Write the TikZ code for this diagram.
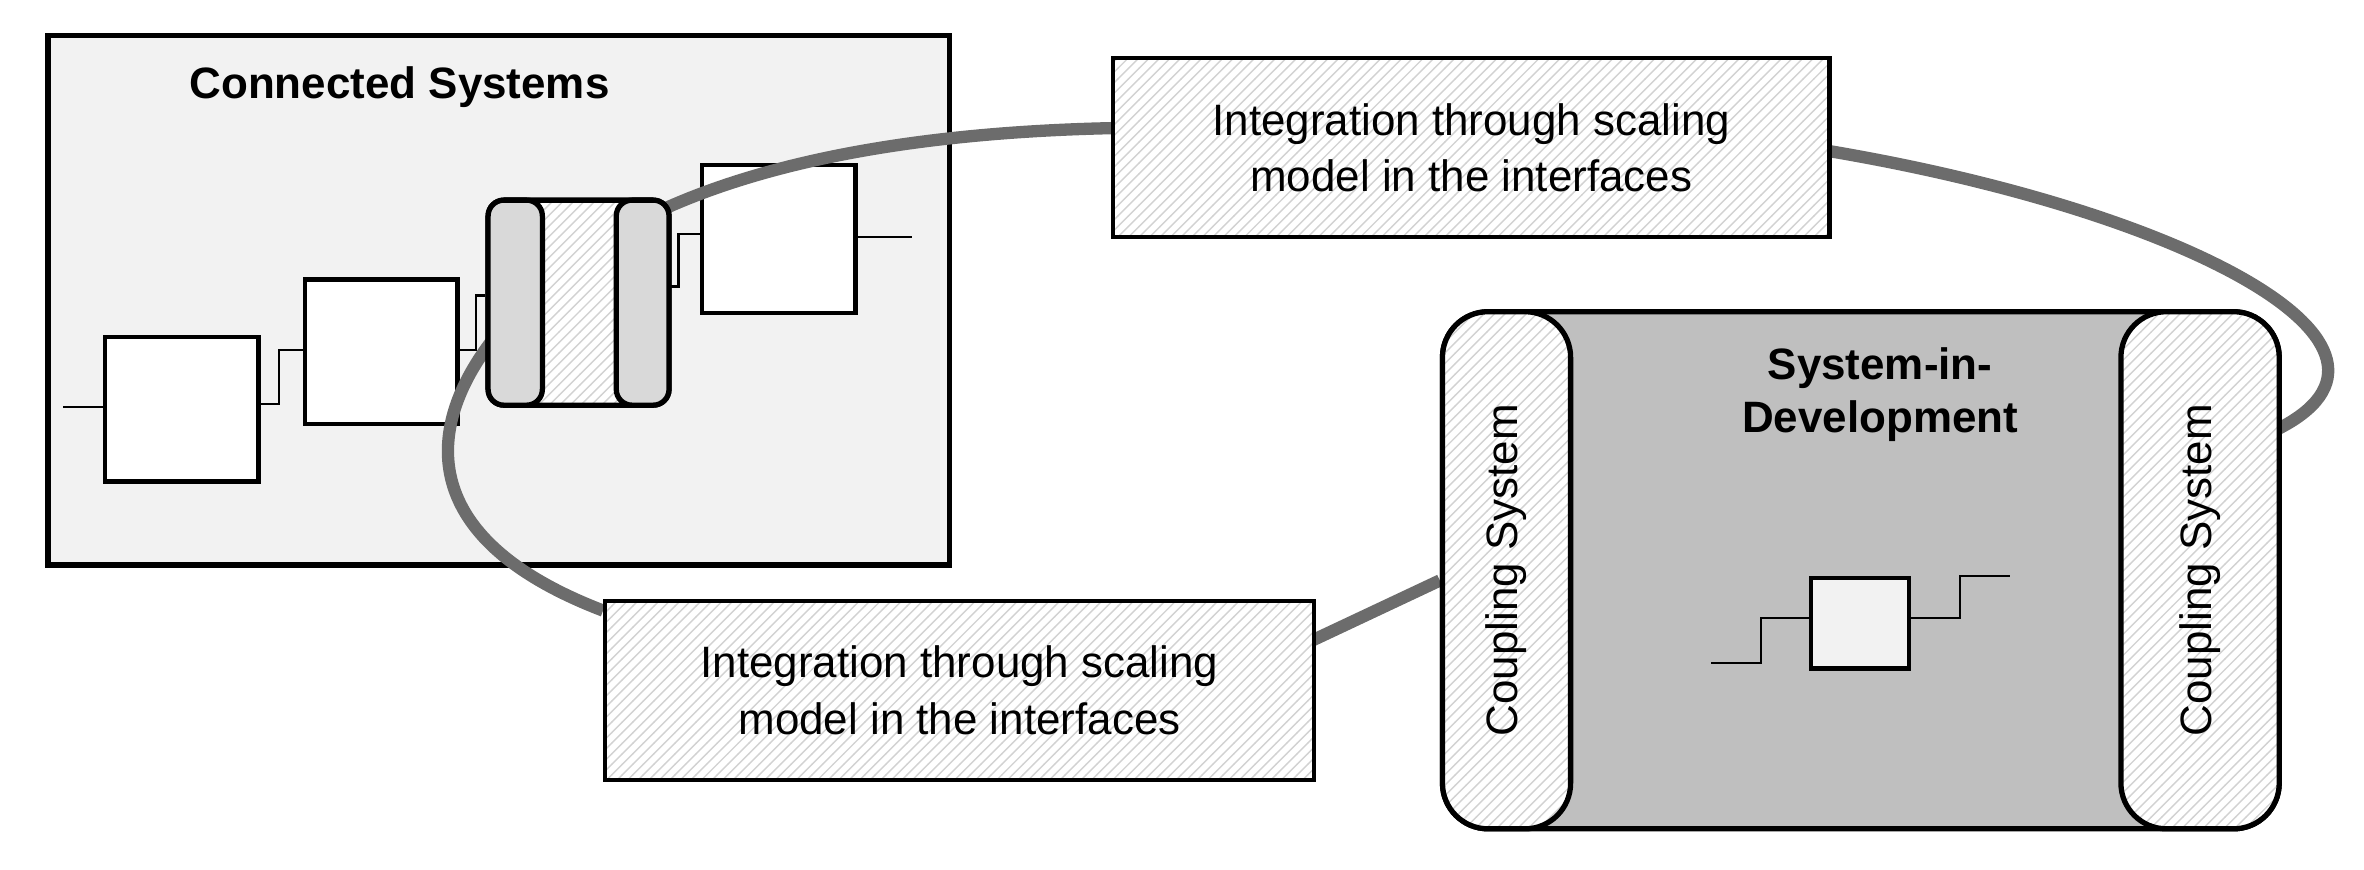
\documentclass[tikz,border=0pt]{standalone}
\usepackage{fontspec}
\setmainfont{Liberation Sans}
\usetikzlibrary{patterns}
\newcommand\PX{0.01508cm}
\begin{document}
\begin{tikzpicture}[x={(0.01508cm,0)},y={(0,-0.01508cm)},
  box/.style 2 args={minimum width=#1*\PX,minimum height=#2*\PX,inner sep=0,anchor=north west},
  blk/.style={draw,line width=1.2pt,fill=white},
  hatch/.style={preaction={fill=white},pattern=north east lines,pattern color=gray!35},
  lbl/.style={draw,line width=1.2pt,hatch,align=center,font=\fontsize{12.5}{16}\selectfont},
  wire/.style={line width=0.6pt},
  loop/.style={draw=gray!85!black,line width=3.5pt}]
\useasboundingbox (0,0) rectangle (1568,577);
% connected systems
\node[draw,line width=1.5pt,fill=gray!10,box={598}{351}] (cs) at (30,22) {};
\node[font=\bfseries\fontsize{12.5}{15}\selectfont] (cst) at (265,58) {Connected Systems};
\node[blk,box={102}{96}] (b1) at (68,222) {};
\node[blk,box={101}{96}] (b2) at (201,184) {};
\node[blk,box={102}{98}] (b3) at (464,108) {};
\coordinate (in1) at (42,270);
\coordinate (out3) at (605,157);
\draw[wire] (in1) -- (68,270);
\draw[wire] (170,268) -- (185,268) -- (185,232) -- (201,232);
\draw[wire] (302,232) -- (316,232) -- (316,196) -- (322,196);
\draw[wire] (442,190) -- (450,190) -- (450,155) -- (464,155);
\draw[wire] (566,157) -- (out3);
% loop
\coordinate (l1w) at (737,85);
\coordinate (l1e) at (1212,100);
\coordinate (l2w) at (400,405);
\coordinate (l2e) at (870,425);
\coordinate (r1) at (1510,285);
\coordinate (r2) at (955,385);
\draw[loop] (l1w) .. controls (600,88) and (480,110) .. (400,160) .. controls (300,225) and (230,340) .. (l2w);
\draw[loop] (l1e) .. controls (1450,140) and (1620,230) .. (r1);
\draw[loop] (l2e) -- (r2);
\node[lbl,box={475}{119}] (l1) at (737,37) {};
\node[font=\fontsize{12.5}{16}\selectfont,align=center] at (l1) {Integration through scaling\\model in the interfaces};
\node[lbl,box={470}{119}] (l2) at (400,397) {};
\node[font=\fontsize{12.5}{16}\selectfont,align=center] at (l2) {Integration through scaling\\model in the interfaces};
% coupling element
\node[draw,line width=1.5pt,hatch,rounded corners=4.5pt,box={120}{136}] (ce) at (322,131) {};
\node[draw,line width=1.5pt,fill=gray!30,rounded corners=4.5pt,box={36}{136}] (cel) at (322,131) {};
\node[draw,line width=1.5pt,fill=gray!30,rounded corners=4.5pt,box={35}{136}] (cer) at (407,131) {};
% SiD
\node[draw,line width=1.5pt,fill=gray!50,rounded corners=13pt,box={555}{343}] (sid) at (955,205) {};
\node[draw,line width=1.5pt,hatch,rounded corners=13pt,box={85}{343}] (csl) at (955,205) {};
\node[draw,line width=1.5pt,hatch,rounded corners=13pt,box={105}{343}] (csr) at (1405,205) {};
\node[rotate=90,font=\fontsize{12.5}{15}\selectfont] at (csl) {Coupling System};
\node[rotate=90,font=\fontsize{12.5}{15}\selectfont] at (csr) {Coupling System};
\node[font=\bfseries\fontsize{12.5}{15}\selectfont,align=center] (sidt) at (1247,262) {System-in-\\Development};
\node[blk,fill=gray!10,box={65}{60}] (sb) at (1200,382) {};
\coordinate (sin) at (1135,440);
\coordinate (sout) at (1333,382);
\draw[wire] (sin) -- (1168,440) -- (1168,410) -- (sb.west |- 0,410);
\draw[wire] (sb.east |- 0,410) -- (1300,410) -- (1300,382) -- (sout);
\end{tikzpicture}
\end{document}
